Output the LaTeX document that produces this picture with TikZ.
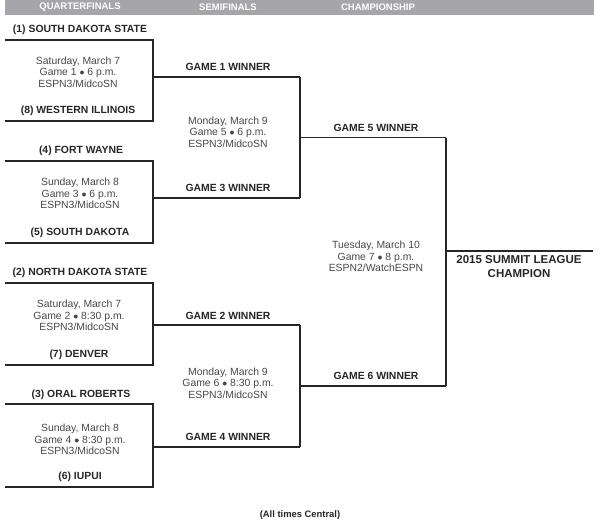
\documentclass[tikz,border=0pt]{standalone}
\usepackage{fontspec}
\setmainfont{Liberation Sans}
\usetikzlibrary{calc}
\definecolor{bargray}{RGB}{166,166,170}
\definecolor{ink}{RGB}{38,38,38}
\tikzstyle{head} = [font=\fontsize{9.5}{11}\selectfont\bfseries, text=white]
\tikzstyle{team} = [font=\fontsize{10.4}{12}\selectfont\bfseries, text=ink]
\tikzstyle{info} = [font=\fontsize{10.4}{11.4}\selectfont, text=black!72, align=center]
\tikzstyle{bline} = [draw=ink, line width=1.1pt]

\begin{document}
\begin{tikzpicture}[x=1pt,y=-1pt]
\useasboundingbox (0,0) rectangle (600,523);
% header bar
\fill [bargray] (5,0) rectangle (594,15);
\node (hq) [head] at (80,7.5) {QUARTERFINALS};
\node (hs) [head] at (228,7.5) {SEMIFINALS};
\node (hc) [head] at (378,7.5) {CHAMPIONSHIP};
% quarterfinal brackets
\foreach \n/\t/\m/\b in {1/40/77/121,2/161/198/243,3/283/325/365,4/404/447/487}{
  \coordinate (t\n) at (5,\t);
  \coordinate (b\n) at (5,\b);
  \coordinate (c\n) at (153,\m);
  \coordinate (w\n) at (300,\m);
  \draw [bline] (t\n) -| (c\n) |- (b\n);
  \draw [bline] (c\n) -- (w\n);
}
% semifinal brackets
\coordinate (s1) at (446,137.5);
\coordinate (s2) at (446,386);
\draw [bline] (w1) -- (w2);
\draw [bline] (w1 |- s1) -- (s1);
\draw [bline] (w3) -- (w4);
\draw [bline] (w3 |- s2) -- (s2);
% championship
\coordinate (f) at (593,251);
\draw [bline] (s1) -- (s2);
\draw [bline] (s1 |- f) -- (f);
% teams
\node (sds) [team] at (80,30) {(1) SOUTH DAKOTA STATE};
\node (wiu) [team] at (78,111) {(8) WESTERN ILLINOIS};
\node (pfw) [team] at (81,151) {(4) FORT WAYNE};
\node (usd) [team] at (80,233) {(5) SOUTH DAKOTA};
\node (nds) [team] at (80,273) {(2) NORTH DAKOTA STATE};
\node (den) [team] at (79,355) {(7) DENVER};
\node (oru) [team] at (81,395) {(3) ORAL ROBERTS};
\node (iup) [team] at (80,477) {(6) IUPUI};
% game info
\node (g1) [info] at (78,72) {Saturday, March 7\\Game 1 $\bullet$ 6 p.m.\\ESPN3/MidcoSN};
\node (g3) [info] at (80,193.5) {Sunday, March 8\\Game 3 $\bullet$ 6 p.m.\\ESPN3/MidcoSN};
\node (g2) [info] at (79,315.5) {Saturday, March 7\\Game 2 $\bullet$ 8:30 p.m.\\ESPN3/MidcoSN};
\node (g4) [info] at (80,439.5) {Sunday, March 8\\Game 4 $\bullet$ 8:30 p.m.\\ESPN3/MidcoSN};
\node (g5) [info] at (228,132) {Monday, March 9\\Game 5 $\bullet$ 6 p.m.\\ESPN3/MidcoSN};
\node (g6) [info] at (228,383) {Monday, March 9\\Game 6 $\bullet$ 8:30 p.m.\\ESPN3/MidcoSN};
\node (g7) [info] at (376,256.5) {Tuesday, March 10\\Game 7 $\bullet$ 8 p.m.\\ESPN2/WatchESPN};
% winners
\node (gw1) [team] at (228,67) {GAME 1 WINNER};
\node (gw3) [team] at (228,188) {GAME 3 WINNER};
\node (gw2) [team] at (228,316) {GAME 2 WINNER};
\node (gw4) [team] at (228,437) {GAME 4 WINNER};
\node (gw5) [team] at (376,128) {GAME 5 WINNER};
\node (gw6) [team] at (376,376) {GAME 6 WINNER};
\node (champ) [team, font=\fontsize{11.5}{14}\selectfont\bfseries, align=center] at (519,267) {2015 SUMMIT LEAGUE\\CHAMPION};
\node (note) [team, font=\fontsize{9.4}{11}\selectfont\bfseries] at (300,515) {(All times Central)};
\end{tikzpicture}
\end{document}
